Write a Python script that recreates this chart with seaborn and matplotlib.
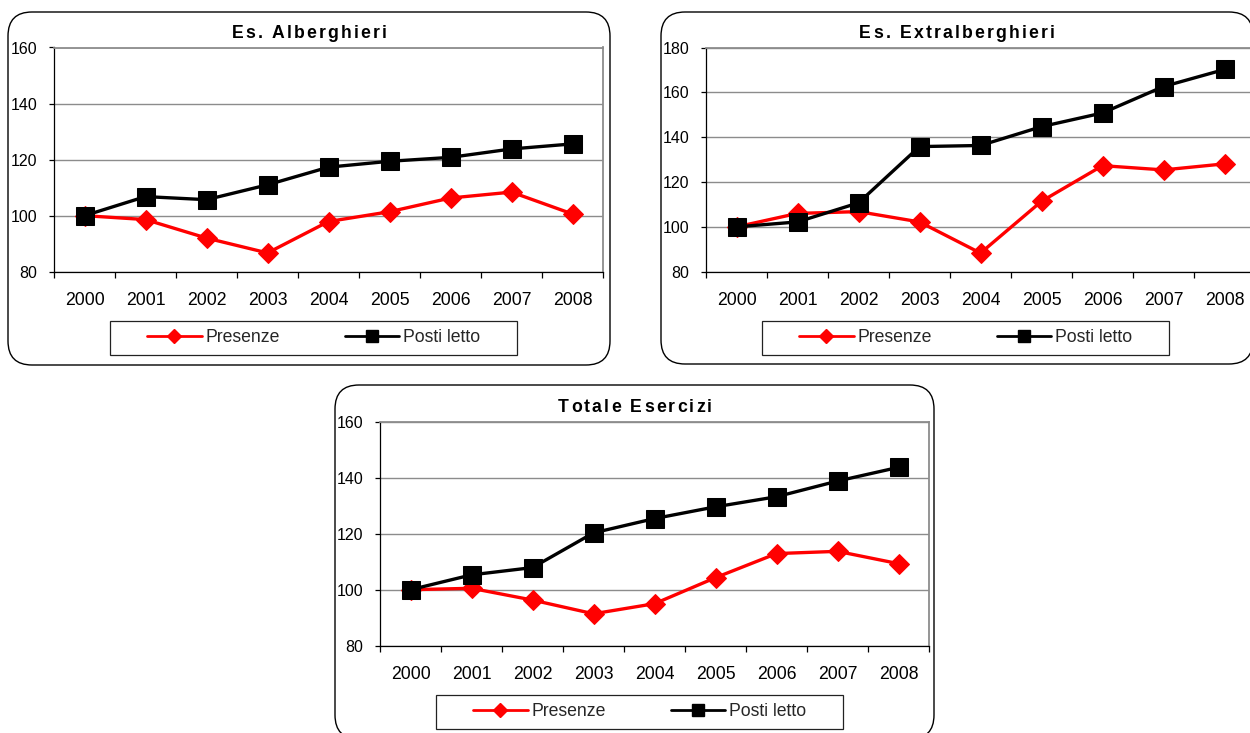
import matplotlib
matplotlib.use("Agg")
import matplotlib.pyplot as plt
from matplotlib import font_manager as fm
from matplotlib.ft2font import FT2Font
from matplotlib.lines import Line2D
from matplotlib.patches import FancyBboxPatch, Rectangle
import numpy as np
import pandas as pd
import seaborn as sns

# ---- data (index numbers, 2000 = 100) ----
years = ["2000", "2001", "2002", "2003", "2004", "2005", "2006", "2007", "2008"]

alb_presenze = [100, 98.6, 92.0, 86.7, 97.9, 101.4, 106.3, 108.4, 100.6]
alb_posti = [100, 106.8, 105.7, 111.0, 117.3, 119.4, 120.8, 123.8, 125.6]

extra_presenze = [100, 106.0, 106.8, 102.2, 88.3, 111.4, 127.3, 125.4, 128.1]
extra_posti = [100, 102.2, 110.7, 135.8, 136.3, 144.7, 150.8, 162.6, 170.2]

tot_presenze = [100, 100.5, 96.3, 91.4, 95.0, 104.3, 112.9, 113.7, 109.3]
tot_posti = [100, 105.3, 107.9, 120.3, 125.4, 129.6, 133.2, 138.8, 143.7]

titles = ["Es. Alberghieri", "Es. Extralberghieri", "Totale Esercizi"]
series_labels = ["Presenze", "Posti letto"]
y_ranges = [(80, 160), (80, 180), (80, 160)]

# ---- style ----
sns.set_theme(style="white")
plt.rcParams["font.family"] = ["Liberation Sans", "DejaVu Sans"]
installed = {f.name for f in fm.fontManager.ttflist}
ytick_family = ["Liberation Sans Narrow"] if "Liberation Sans Narrow" in installed else ["Liberation Sans"]
ytick_size = 12.7 if "Liberation Sans Narrow" in installed else 11.5

RED = "#FF0000"
GRID = "#8C8C8C"
FS = 12.7

W, H, DPI = 1250, 733, 100
fig = plt.figure(figsize=(W / DPI, H / DPI), dpi=DPI)
fig.patch.set_facecolor("white")


def px_axes(left, top, right, bottom):
    """Create axes from pixel edges (origin top-left)."""
    return fig.add_axes([left / W, 1 - bottom / H, (right - left) / W, (bottom - top) / H])


def rounded_box(left, top, right, bottom):
    box = FancyBboxPatch(
        (left / DPI, (H - bottom) / DPI), (right - left) / DPI, (bottom - top) / DPI,
        boxstyle="round,pad=0,rounding_size=0.24",
        transform=fig.dpi_scale_trans, facecolor="white", edgecolor="black",
        linewidth=1.0, zorder=0)
    fig.add_artist(box)


def tracked_title(cx, baseline, text, size=FS, tracking=2.2):
    """Bold title with extra spacing between letters, centred at cx (pixels)."""
    prop = fm.FontProperties(family="Liberation Sans", weight="bold", size=size)
    font = FT2Font(fm.findfont(prop))
    font.set_size(size, DPI)
    adv = [font.load_char(ord(c)).linearHoriAdvance / 65536 for c in text]
    total = sum(adv) + tracking * (len(text) - 1)
    x = cx - total / 2
    for c, a in zip(text, adv):
        fig.text(x / W, 1 - baseline / H, c, fontproperties=prop,
                 ha="left", va="baseline", color="black")
        x += a + tracking


def panel(ax, presenze, posti, ylim):
    df = pd.DataFrame({"Anno": years, "Presenze": presenze, "Posti letto": posti})
    sns.lineplot(data=df, x="Anno", y="Presenze", ax=ax, color=RED, marker="D",
                 markersize=10.5, markeredgecolor=RED, linewidth=2.4, legend=False,
                 clip_on=False, zorder=3)
    sns.lineplot(data=df, x="Anno", y="Posti letto", ax=ax, color="black", marker="s",
                 markersize=12.5, markeredgecolor="black", linewidth=2.4, legend=False,
                 clip_on=False, zorder=4)

    ax.set_xlim(-0.5, len(years) - 0.5)
    ax.set_ylim(*ylim)
    ax.set_yticks(np.arange(ylim[0], ylim[1] + 1, 20))
    ax.set_xticks(range(len(years)))
    ax.set_xticklabels(years)
    ax.set_xticks(np.arange(-0.5, len(years), 1), minor=True)
    ax.set_xlabel("")
    ax.set_ylabel("")
    ax.set_facecolor("white")

    ax.yaxis.grid(True, color=GRID, linewidth=1.0)
    ax.xaxis.grid(False)
    ax.set_axisbelow(True)

    for s in ("left", "bottom"):
        ax.spines[s].set_color("black")
        ax.spines[s].set_linewidth(0.9)
    for s in ("top", "right"):
        ax.spines[s].set_color(GRID)
        ax.spines[s].set_linewidth(1.3)

    ax.tick_params(axis="x", which="major", length=0, pad=14.5, labelsize=FS, colors="black")
    ax.tick_params(axis="x", which="minor", length=4.5, width=0.9, color="black",
                   direction="out", bottom=True)
    ax.tick_params(axis="y", which="major", length=3.8, width=0.9, color="black",
                   direction="out", left=True, pad=8, labelcolor="black")
    for lab in ax.get_yticklabels():
        lab.set_family(ytick_family)
        lab.set_fontsize(ytick_size)

    # legend below the plot area, with its own rectangular frame
    handles = [
        Line2D([], [], color=RED, lw=2.0, marker="D", markersize=6.8,
               markeredgecolor=RED),
        Line2D([], [], color="black", lw=2.0, marker="s", markersize=9,
               markeredgecolor="black"),
    ]
    ax.legend(handles, series_labels, ncol=2, frameon=False, loc="center",
              bbox_to_anchor=(0.4727, -0.2957), fontsize=FS, handlelength=3.1,
              handletextpad=0.2, columnspacing=3.7, borderaxespad=0)
    ax.add_patch(Rectangle((0.102, -0.3715), 0.7414, 0.1516, transform=ax.transAxes,
                           fill=False, edgecolor="#222222", linewidth=0.9,
                           clip_on=False))


# panel frames
rounded_box(8, 12, 610, 365)
rounded_box(661, 12, 1253, 364)
rounded_box(335, 385, 934, 739)

ax1 = px_axes(54, 47.5, 603, 271.7)
ax2 = px_axes(706, 47.5, 1255, 271.7)
ax3 = px_axes(380, 421.7, 929, 645.7)

panel(ax1, alb_presenze, alb_posti, y_ranges[0])
panel(ax2, extra_presenze, extra_posti, y_ranges[1])
panel(ax3, tot_presenze, tot_posti, y_ranges[2])

tracked_title(309, 37.5, titles[0])
tracked_title(957, 37.5, titles[1])
tracked_title(635, 412.5, titles[2])

fig.savefig("out.png", dpi=DPI, facecolor="white")
